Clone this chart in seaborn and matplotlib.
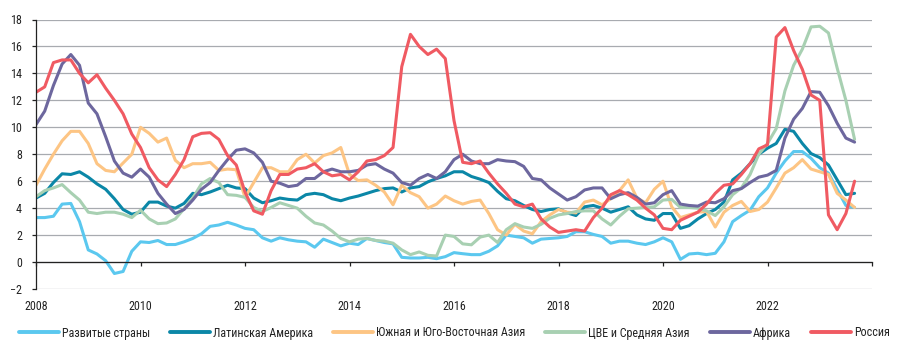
import numpy as np
import pandas as pd
import matplotlib
matplotlib.use("Agg")
import matplotlib.pyplot as plt
import seaborn as sns
from matplotlib import font_manager

# ---- data (2-month steps, Jan 2008 .. Sep 2023) ----
dates = pd.date_range("2008-01-01", "2023-09-01", freq="2MS")

developed = [3.3, 3.3, 3.4, 4.3, 4.35, 3.0,
             0.9, 0.6, 0.1, -0.85, -0.7, 0.8,
             1.5, 1.45, 1.6, 1.3, 1.3, 1.5,
             1.75, 2.1, 2.65, 2.75, 2.95, 2.75,
             2.5, 2.4, 1.8, 1.55, 1.8, 1.65,
             1.55, 1.5, 1.1, 1.7, 1.45, 1.2,
             1.4, 1.3, 1.75, 1.6, 1.45, 1.35,
             0.35, 0.3, 0.3, 0.35, 0.25, 0.4,
             0.7, 0.62, 0.55, 0.55, 0.8, 1.2,
             2.0, 1.9, 1.8, 1.4, 1.7, 1.75,
             1.8, 1.9, 2.25, 2.25, 2.05, 1.9,
             1.4, 1.55, 1.55, 1.4, 1.3, 1.5,
             1.8, 1.5, 0.2, 0.6, 0.65, 0.55,
             0.65, 1.5, 3.0, 3.45, 3.85, 4.85,
             5.5, 6.6, 7.5, 8.2, 8.2, 7.7,
             7.0, 6.6, 5.4, 4.2, 4.05]

latam = [4.75, 5.1, 5.9, 6.55, 6.5, 6.7,
         6.3, 5.8, 5.4, 4.7, 3.9, 3.55,
         3.7, 4.45, 4.45, 4.15, 4.0, 4.35,
         5.1, 5.0, 5.2, 5.45, 5.7, 5.5,
         5.45, 4.75, 4.4, 4.55, 4.75, 4.65,
         4.6, 5.0, 5.1, 5.0, 4.7, 4.55,
         4.75, 4.9, 5.1, 5.3, 5.45, 5.5,
         5.2, 5.5, 5.6, 5.95, 6.2, 6.4,
         6.7, 6.7, 6.35, 6.15, 5.9, 5.25,
         4.7, 4.55, 4.2, 3.9, 3.75, 3.9,
         3.95, 3.65, 3.45, 4.1, 4.2, 4.0,
         3.7, 3.9, 4.1, 3.5, 3.2, 3.1,
         3.6, 3.6, 2.5, 2.7, 3.2, 3.6,
         3.9, 4.45, 6.1, 6.6, 7.3, 8.0,
         8.45, 8.8, 9.85, 9.7, 8.8, 8.05,
         7.75, 7.2, 6.1, 5.0, 5.1]

south_asia = [5.7, 6.9, 8.0, 9.0, 9.7, 9.7,
              8.8, 7.3, 6.8, 6.7, 7.35, 8.0,
              10.0, 9.55, 8.9, 9.2, 7.55, 7.0,
              7.3, 7.3, 7.4, 6.8, 6.9, 6.85,
              4.8, 5.9, 7.0, 7.0, 6.7, 6.7,
              7.6, 8.0, 7.35, 7.9, 8.1, 8.5,
              6.5, 6.05, 6.1, 5.7, 5.2, 4.25,
              5.7, 5.15, 4.85, 4.0, 4.3, 4.9,
              4.55, 4.3, 4.5, 4.6, 3.6, 2.4,
              2.0, 2.8, 2.3, 2.1, 3.0, 3.5,
              3.9, 3.7, 3.65, 4.45, 4.6, 4.25,
              4.7, 5.3, 6.1, 4.75, 4.4, 5.4,
              6.0, 4.1, 3.3, 3.5, 3.7, 3.75,
              2.6, 3.7, 4.2, 4.5, 3.75, 3.9,
              4.45, 5.5, 6.6, 7.0, 7.6, 6.9,
              6.7, 6.5, 5.1, 4.6, 4.05]

cee = [4.85, 5.3, 5.5, 5.75, 5.15, 4.6,
       3.7, 3.6, 3.7, 3.7, 3.55, 3.3,
       3.85, 3.2, 2.85, 2.9, 3.2, 3.95,
       4.75, 5.8, 6.2, 5.9, 5.0, 4.95,
       4.8, 4.05, 3.75, 4.05, 4.4, 4.2,
       4.0, 3.4, 2.9, 2.75, 2.3, 1.75,
       1.5, 1.7, 1.75, 1.6, 1.55, 1.4,
       0.9, 0.55, 0.75, 0.5, 0.45, 2.0,
       1.9, 1.35, 1.28, 1.85, 2.0, 1.45,
       2.4, 2.85, 2.6, 2.5, 2.8, 3.25,
       3.5, 3.6, 3.75, 3.8, 3.8, 3.2,
       2.75, 3.4, 3.95, 4.0, 4.05, 4.1,
       4.6, 4.65, 4.05, 4.05, 4.0, 3.8,
       3.45, 4.1, 5.0, 5.5, 6.5, 8.0,
       8.8, 9.9, 12.7, 14.6, 15.8, 17.45,
       17.5, 17.0, 14.4, 12.0, 9.1]

africa = [10.2, 11.2, 13.1, 14.7, 15.4, 14.6,
          11.8, 11.0, 9.3, 7.5, 6.6, 6.3,
          6.9, 6.3, 5.1, 4.3, 3.6, 3.9,
          4.6, 5.4, 5.9, 6.8, 7.6, 8.3,
          8.4, 8.1, 7.4, 6.0, 5.85, 5.6,
          5.7, 6.2, 6.2, 6.7, 6.9, 6.7,
          6.7, 6.8, 7.2, 7.3, 6.9, 6.6,
          5.9, 5.7, 6.2, 6.5, 6.2, 6.7,
          7.6, 8.0, 7.5, 7.3, 7.3, 7.6,
          7.5, 7.45, 7.1, 6.2, 6.1, 5.5,
          5.05, 4.6, 4.85, 5.35, 5.5, 5.5,
          4.7, 5.0, 5.15, 4.8, 4.3, 4.4,
          5.0, 5.3, 4.3, 4.2, 4.15, 4.45,
          4.4, 4.7, 5.3, 5.45, 5.9, 6.3,
          6.45, 6.8, 9.2, 10.6, 11.4, 12.65,
          12.6, 11.6, 10.3, 9.2, 8.9]

russia = [12.6, 13.0, 14.8, 15.0, 15.0, 14.0,
          13.3, 13.9, 12.9, 12.0, 11.0, 9.5,
          8.5, 7.0, 6.1, 5.6, 6.5, 7.6,
          9.3, 9.55, 9.6, 9.1, 7.9, 7.2,
          5.2, 3.8, 3.55, 5.3, 6.5, 6.5,
          6.9, 7.0, 7.3, 6.7, 6.4, 6.5,
          6.1, 6.7, 7.5, 7.6, 7.9, 8.5,
          14.5, 16.9, 16.0, 15.4, 15.8, 15.1,
          10.5, 7.4, 7.3, 7.5, 6.6, 5.8,
          5.1, 4.3, 4.1, 4.3, 3.2, 2.6,
          2.2, 2.3, 2.4, 2.3, 3.3, 4.0,
          5.0, 5.3, 5.0, 4.6, 4.0, 3.5,
          2.5, 2.4, 3.1, 3.4, 3.7, 4.3,
          5.1, 5.7, 5.8, 6.5, 7.3, 8.4,
          8.7, 16.7, 17.4, 15.7, 14.3, 12.4,
          12.0, 3.5, 2.4, 3.6, 6.0]

series_names = ["Развитые страны", "Латинская Америка", "Южная и Юго-Восточная Азия",
                "ЦВЕ и Средняя Азия", "Африка", "Россия"]
series_values = [developed, latam, south_asia, cee, africa, russia]
colors = ["#5bc8ef", "#0b87a7", "#fdc584", "#a8d0b2", "#6d679e", "#f05a62"]

x_ticks = [2008, 2010, 2012, 2014, 2016, 2018, 2020, 2022, 2024]
x_tick_labels = ["2008", "2010", "2012", "2014", "2016", "2018", "2020", "2022", ""]
y_ticks = [-2, 0, 2, 4, 6, 8, 10, 12, 14, 16, 18]

# ---- build long table ----
xnum = dates.year + (dates.month - 1) / 12.0
frames = []
for name, vals in zip(series_names, series_values):
    frames.append(pd.DataFrame({"x": xnum, "value": vals, "series": name}))
df = pd.concat(frames, ignore_index=True)

sns.set_theme(style="white")

# ---- pick a narrow font if one is installed ----
entries = font_manager.fontManager.ttflist
names = {f.name for f in entries}
family = None
stretch = "normal"
for cand in ["Liberation Sans Narrow", "Roboto Condensed", "Open Sans Condensed",
             "Noto Sans Condensed", "Arial Narrow", "DejaVu Sans Condensed"]:
    if cand in names:
        family = cand
        break
if family is None:
    if any(f.name == "DejaVu Sans" and "condensed" in str(f.stretch) for f in entries):
        family, stretch = "DejaVu Sans", "condensed"
    elif "Roboto" in names:
        family = "Roboto"
    else:
        family = "DejaVu Sans"
plt.rcParams["font.family"] = [family, "DejaVu Sans"]
plt.rcParams["font.stretch"] = stretch

fig = plt.figure(figsize=(9.12, 3.52), dpi=100)

# scale the text so that the first legend label is as wide as in the reference (89 px)
probe = fig.text(0, 0, series_names[0], fontsize=9)
fig.canvas.draw()
w = probe.get_window_extent().width
probe.remove()
fs = float(np.clip(9.0 * 89.0 / w, 6.5, 9.5))
fs_px = fs * 100 / 72.0

ax = fig.add_axes([36 / 912, 1 - 289 / 352, (872 - 36) / 912, (289 - 19.5) / 352])

sns.lineplot(data=df, x="x", y="value", hue="series", hue_order=series_names,
             palette=colors, linewidth=2.2, ax=ax, legend=True)

ax.set_xlim(2008, 2024)
ax.set_ylim(-2, 18)
ax.set_yticks(y_ticks)
ax.set_xticks(x_ticks)
ax.set_xticklabels(x_tick_labels)
ax.set_xlabel("")
ax.set_ylabel("")

for y in y_ticks:
    ax.axhline(y, color="#a8abb0", linewidth=0.9, zorder=0)

for s in ["top", "right"]:
    ax.spines[s].set_visible(False)
ax.spines["left"].set_color("#222222")
ax.spines["left"].set_linewidth(0.9)
ax.spines["bottom"].set_position(("data", 0))
ax.spines["bottom"].set_color("#222222")
ax.spines["bottom"].set_linewidth(0.9)

tick_fs = max(fs, 8.0)
ax.tick_params(axis="y", direction="out", length=3, width=0.9, color="#222222",
               labelsize=tick_fs, pad=7, labelcolor="#222222", left=True)
ax.tick_params(axis="x", direction="out", length=3, width=0.9, color="#222222",
               labelsize=tick_fs, pad=24, labelcolor="#222222", bottom=True)

handles, labels = ax.get_legend_handles_labels()
ax.get_legend().remove()
leg = fig.legend(handles, labels, loc="center", bbox_to_anchor=(0.498, 1 - 333 / 352),
                 ncol=6, frameon=False, fontsize=fs, handlelength=40 / fs_px,
                 handletextpad=3 / fs_px, columnspacing=20 / fs_px,
                 borderpad=0, borderaxespad=0)
for line in leg.get_lines():
    line.set_linewidth(2.8)
for t in leg.get_texts():
    t.set_color("#222222")

fig.savefig("out.png", dpi=100)
